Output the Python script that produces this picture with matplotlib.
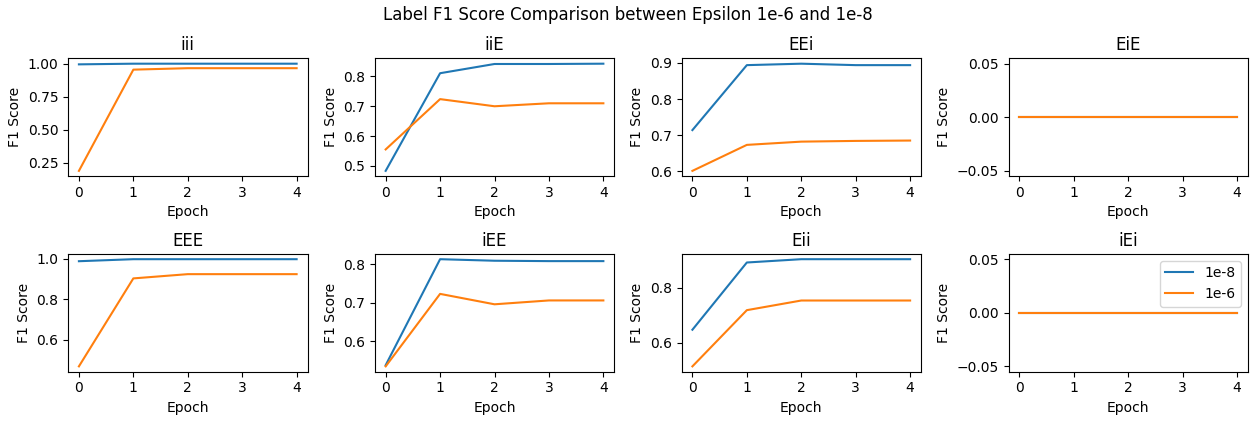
import matplotlib
matplotlib.use("Agg")
import matplotlib.pyplot as plt

epochs = [0, 1, 2, 3, 4]
labels = ["iii", "iiE", "EEi", "EiE", "EEE", "iEE", "Eii", "iEi"]

# F1 per label, eps = 1e-8
f1_1e8 = {
    "iii": [0.995, 1.0, 1.0, 1.0, 1.0],
    "iiE": [0.483, 0.811, 0.842, 0.842, 0.843],
    "EEi": [0.714, 0.894, 0.898, 0.894, 0.894],
    "EiE": [0.0, 0.0, 0.0, 0.0, 0.0],
    "EEE": [0.988, 0.998, 0.998, 0.998, 0.998],
    "iEE": [0.538, 0.813, 0.809, 0.808, 0.808],
    "Eii": [0.648, 0.892, 0.904, 0.904, 0.904],
    "iEi": [0.0, 0.0, 0.0, 0.0, 0.0],
}

# F1 per label, eps = 1e-6
f1_1e6 = {
    "iii": [0.19, 0.955, 0.966, 0.966, 0.966],
    "iiE": [0.555, 0.724, 0.700, 0.710, 0.710],
    "EEi": [0.601, 0.673, 0.682, 0.684, 0.685],
    "EiE": [0.0, 0.0, 0.0, 0.0, 0.0],
    "EEE": [0.468, 0.903, 0.924, 0.924, 0.924],
    "iEE": [0.535, 0.723, 0.696, 0.706, 0.706],
    "Eii": [0.515, 0.719, 0.754, 0.754, 0.754],
    "iEi": [0.0, 0.0, 0.0, 0.0, 0.0],
}

fig, axes = plt.subplots(2, 4, figsize=(12.56, 4.21), dpi=100, layout="constrained")
fig.get_layout_engine().set(w_pad=0.08, h_pad=0.06)

for ax, lab in zip(axes.flat, labels):
    ax.plot(epochs, f1_1e8[lab], label="1e-8")
    ax.plot(epochs, f1_1e6[lab], label="1e-6")
    ax.set_title(lab)
    ax.set_xlabel("Epoch")
    ax.set_ylabel("F1 Score")

axes.flat[-1].legend(loc="upper right")

fig.suptitle("Label F1 Score Comparison between Epsilon 1e-6 and 1e-8")
plt.savefig("out.png")
